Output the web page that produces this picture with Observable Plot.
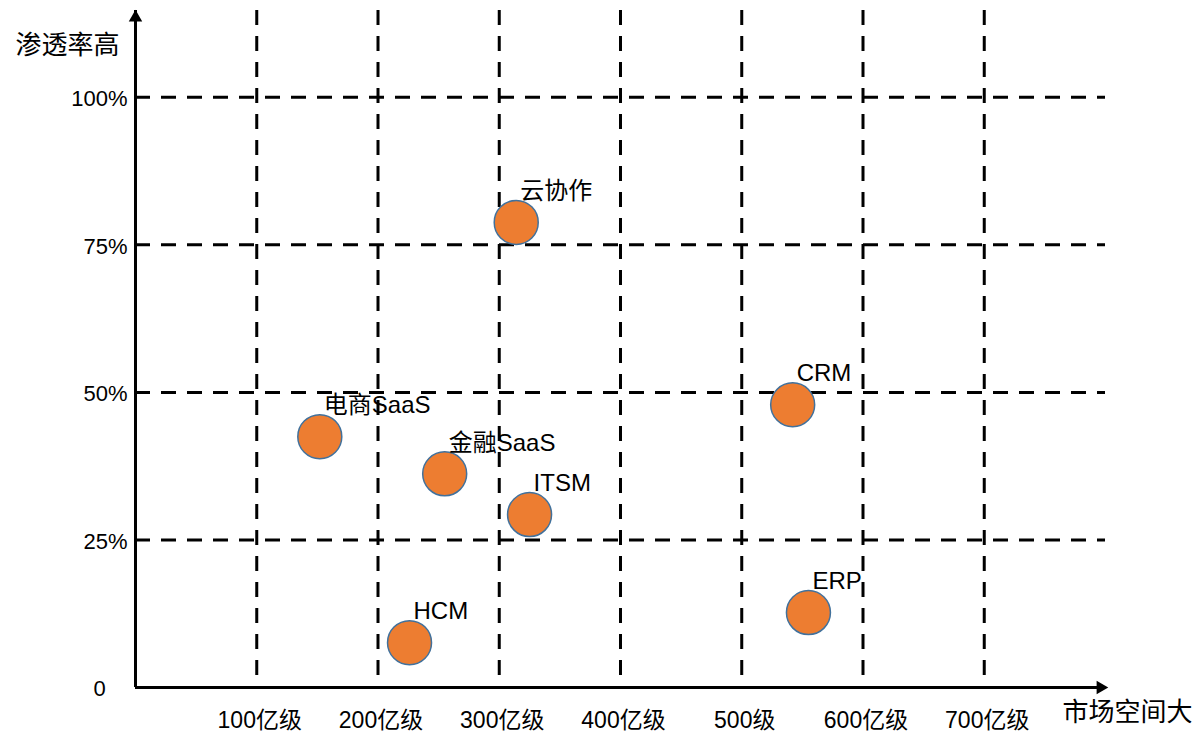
<!DOCTYPE html>
<html><head><meta charset="utf-8">
<script src="https://cdn.jsdelivr.net/npm/d3@7"></script>
<script src="https://cdn.jsdelivr.net/npm/@observablehq/plot@0.6"></script>
<style>body{margin:0;background:#fff} svg{display:block}</style>
</head><body><div id="chart"></div>
<script>
// ---- data ----
const names = ["云协作", "电商SaaS", "金融SaaS", "ITSM", "HCM", "CRM", "ERP"];
const marketSize = [314, 152, 255, 325, 226, 542, 555];      // 亿
const penetration = [78.8, 42.5, 36.2, 29.3, 7.6, 47.9, 12.7]; // %
const xTickValues = [100, 200, 300, 400, 500, 600, 700];
const xTickLabels = ["100亿级", "200亿级", "300亿级", "400亿级", "500级", "600亿级", "700亿级"];
const yTickValues = [25, 50, 75, 100];
const yTickLabels = ["25%", "50%", "75%", "100%"];
const originLabel = "0";
const xAxisTitle = "市场空间大";
const yAxisTitle = "渗透率高";
const xMax = 800, yMax = 114.7;

const points = names.map((name, i) => ({name, x: marketSize[i], y: penetration[i]}));

const dash = "15,11";
const chart = Plot.plot({
  width: 1199, height: 734,
  marginLeft: 135, marginRight: 94, marginTop: 10, marginBottom: 47,
  x: {domain: [0, xMax], axis: null},
  y: {domain: [0, yMax], axis: null},
  style: {fontFamily: '"Liberation Sans", "Noto Sans CJK SC", sans-serif', background: "white", color: "black"},
  marks: [
    Plot.ruleY(yTickValues, {y: d => d, x1: 0, x2: xMax, stroke: "black", strokeWidth: 3, strokeDasharray: dash}),
    Plot.ruleX(xTickValues, {x: d => d, y1: yMax, y2: 0, stroke: "black", strokeWidth: 3, strokeDasharray: dash}),
    Plot.ruleY([0], {y: d => d, x1: 0, x2: xMax, stroke: "black", strokeWidth: 3}),
    Plot.ruleX([0], {x: d => d, y1: 0, y2: yMax, stroke: "black", strokeWidth: 3}),
    Plot.dot([{x: xMax, y: 0}], {x: "x", y: "y", symbol: "triangle", r: 5, fill: "black", rotate: 90, dx: -5}),
    Plot.dot([{x: 0, y: yMax}], {x: "x", y: "y", symbol: "triangle", r: 5, fill: "black", dy: 7}),
    Plot.dot(points, {x: "x", y: "y", r: 22, fill: "#ED7D31", stroke: "#41719C", strokeWidth: 1.5}),
    Plot.text(points, {x: "x", y: "y", text: "name", textAnchor: "start", dx: 4, dy: -31, fontSize: 24, fill: "black"}),
    Plot.text(xTickValues, {x: d => d, y: 0, text: (d, i) => xTickLabels[i], dy: 33, dx: 3, fontSize: 23, fill: "black", ariaLabel: "x-tick-labels"}),
    Plot.text(yTickValues, {x: 0, y: d => d, text: (d, i) => yTickLabels[i], textAnchor: "end", dx: -8, dy: 2, fontSize: 22, fill: "black"}),
    Plot.text([originLabel], {x: 0, y: 0, text: d => d, dx: -36, dy: 1, fontSize: 22, fill: "black"}),
    Plot.text([yAxisTitle], {frameAnchor: "top-left", text: d => d, textAnchor: "start", dx: -120, dy: 25, fontSize: 26, fill: "black"}),
    Plot.text([xAxisTitle], {frameAnchor: "bottom-right", text: d => d, textAnchor: "start", dx: -43, dy: 33, fontSize: 26, fill: "black"})
  ]
});
d3.select(chart).selectAll('g[aria-label="x-tick-labels"] text').attr("letter-spacing", "3");
document.getElementById("chart").appendChild(chart);
</script>
</body></html>
